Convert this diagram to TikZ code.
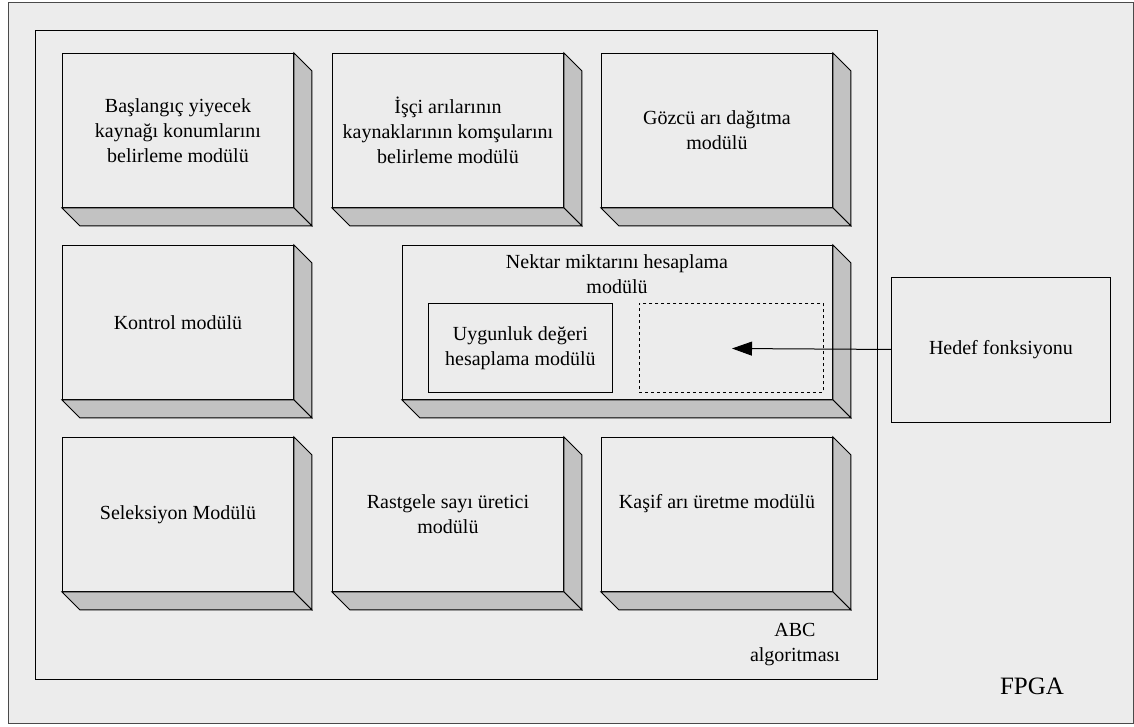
\documentclass[tikz,border=0pt]{standalone}
\usepackage{fontspec}
\setmainfont{Liberation Serif}
\usetikzlibrary{calc,arrows.meta}
\definecolor{panel}{HTML}{ECECEC}
\definecolor{sideface}{HTML}{C2C2C2}
\definecolor{frameline}{HTML}{4A4A4A}
\begin{document}
\begin{tikzpicture}[x=1pt,y=-1pt,
  txt/.style={font=\fontsize{20}{25}\selectfont, align=center, inner sep=0pt},
  modbox/.style={draw=black, fill=panel, line width=0.9pt, inner sep=0pt,
    anchor=north west, minimum width=231pt, minimum height=154pt,
    txt},
  sidef/.style={draw=black, fill=sideface, line width=0.9pt, line join=miter},
  plainbox/.style={draw=black, line width=0.9pt, anchor=north west, inner sep=0pt, txt},
  dashbox/.style={draw=black, line width=0.7pt, dashed, anchor=north west, inner sep=0pt}
]
\useasboundingbox (0,0) rectangle (1134,726);
% FPGA frame
\node[draw=frameline, fill=panel, line width=1.4pt, anchor=north west, inner sep=0pt,
  minimum width=1125pt, minimum height=721pt] (fpga) at (7.5,1.5) {};
% ABC algorithm frame
\node[draw=black, line width=1pt, anchor=north west, inner sep=0pt,
  minimum width=842pt, minimum height=649pt] (abc) at (35,29.5) {};

% module slabs (front faces)
\node[modbox] (m1) at (62,53) {Başlangıç yiyecek\\kaynağı konumlarını\\belirleme modülü};
\node[modbox] (m2) at (332,53) {İşçi arılarının\\kaynaklarının komşularını\\belirleme modülü};
\node[modbox] (m3) at (601,53) {Gözcü arı dağıtma\\modülü};
\node[modbox] (m4) at (62,245) {Kontrol modülü};
\node[modbox, minimum width=430pt] (m5) at (402,245) {};
\node[modbox] (m6) at (62,437) {Seleksiyon Modülü};
\node[modbox] (m7) at (332,437) {Rastgele sayı üretici\\modülü};
\node[modbox] (m8) at (601,437) {};
\node[txt] (m8t) at ($(m8.center)+(0,-11)$) {Kaşif arı üretme modülü};

% depth faces of the slabs
\foreach \m in {m1,m2,m3,m4,m5,m6,m7,m8}{
  \filldraw[sidef] (\m.north east) -- ([shift={(18,18)}]\m.north east)
    -- ([shift={(18,18)}]\m.south east) -- (\m.south east) -- cycle;
  \filldraw[sidef] (\m.south west) -- ([shift={(18,18)}]\m.south west)
    -- ([shift={(18,18)}]\m.south east) -- (\m.south east) -- cycle;
}

% nectar module contents
\node[txt] (m5t) at (617,274) {Nektar miktarını hesaplama\\modülü};
\node[plainbox, minimum width=184pt, minimum height=89pt] (fit) at (428,303)
  {Uygunluk değeri\\hesaplama modülü};
\node[dashbox, minimum width=184pt, minimum height=89pt] (slot) at (639,303) {};
\coordinate (slotin) at (732,348.5);

% objective function
\node[plainbox, minimum width=219pt, minimum height=145pt] (obj) at (891,276.5)
  {Hedef fonksiyonu};
\draw[line width=1pt, -{Triangle[length=20pt,width=14pt]}] (obj.west) -- (slotin);

% frame captions
\node[txt] (abct) at (795,645) {ABC\\algoritması};
\node[txt, font=\fontsize{25}{30}\selectfont] (fpgat) at (1032,686) {FPGA};
\end{tikzpicture}
\end{document}
